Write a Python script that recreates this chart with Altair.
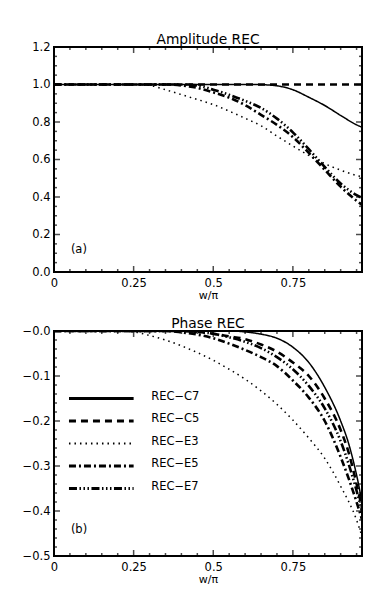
import altair as alt
import pandas as pd

FONT = "DejaVu Sans"

SERIES = ["REC-C7", "REC-C5", "REC-E3", "REC-E5", "REC-E7"]
SERIES_LABELS = ["REC\u2212C7", "REC\u2212C5", "REC\u2212E3", "REC\u2212E5", "REC\u2212E7"]

# ---------------- Amplitude REC (a) ----------------
amp_c7_x = [0, 0.6, 0.65, 0.7, 0.75, 0.8, 0.85, 0.9, 0.95, 1.0]
amp_c7_v = [1.0, 1.0, 0.999, 0.993, 0.972, 0.932, 0.888, 0.835, 0.785, 0.752]
amp_c5_x = [0, 0.5, 1.0]
amp_c5_v = [1.0, 1.0, 1.0]
amp_e3_x = [0, 0.25, 0.3, 0.35, 0.4, 0.45, 0.5, 0.55, 0.6, 0.65, 0.7, 0.75, 0.8, 0.85, 0.9, 0.95, 1.0]
amp_e3_v = [1.0, 1.0, 0.995, 0.972, 0.946, 0.92, 0.893, 0.858, 0.82, 0.78, 0.725, 0.672, 0.622, 0.578, 0.543, 0.515, 0.5]
amp_e5_x = [0, 0.35, 0.4, 0.45, 0.5, 0.55, 0.6, 0.65, 0.7, 0.75, 0.8, 0.85, 0.9, 0.95, 1.0]
amp_e5_v = [1.0, 1.0, 0.995, 0.982, 0.958, 0.93, 0.89, 0.838, 0.785, 0.72, 0.635, 0.545, 0.455, 0.38, 0.32]
amp_e7_x = [0, 0.4, 0.45, 0.5, 0.55, 0.6, 0.65, 0.7, 0.75, 0.8, 0.85, 0.9, 0.95, 1.0]
amp_e7_v = [1.0, 1.0, 0.995, 0.972, 0.945, 0.913, 0.875, 0.818, 0.745, 0.655, 0.56, 0.472, 0.41, 0.375]

# ---------------- Phase REC (b) ----------------
ph_c7_x = [0, 0.55, 0.6, 0.65, 0.7, 0.75, 0.8, 0.85, 0.9, 0.925, 0.95, 0.975, 1.0]
ph_c7_v = [0, 0, -0.002, -0.007, -0.016, -0.036, -0.07, -0.125, -0.2, -0.25, -0.32, -0.41, -0.5]
ph_c5_x = [0, 0.4, 0.45, 0.5, 0.55, 0.6, 0.65, 0.7, 0.75, 0.8, 0.85, 0.9, 0.925, 0.95, 0.975, 1.0]
ph_c5_v = [0, 0, -0.002, -0.006, -0.012, -0.018, -0.03, -0.046, -0.07, -0.1, -0.15, -0.22, -0.27, -0.34, -0.42, -0.5]
ph_e3_x = [0, 0.2, 0.25, 0.3, 0.35, 0.4, 0.45, 0.5, 0.55, 0.6, 0.65, 0.7, 0.75, 0.8, 0.85, 0.9, 0.95, 0.985]
ph_e3_v = [0, 0, -0.002, -0.01, -0.02, -0.033, -0.048, -0.065, -0.085, -0.107, -0.133, -0.163, -0.198, -0.238, -0.283, -0.345, -0.42, -0.5]
ph_e5_x = [0, 0.35, 0.4, 0.45, 0.5, 0.55, 0.6, 0.65, 0.7, 0.75, 0.8, 0.85, 0.9, 0.95, 1.0]
ph_e5_v = [0, 0, -0.003, -0.008, -0.016, -0.028, -0.042, -0.058, -0.078, -0.11, -0.148, -0.2, -0.28, -0.38, -0.5]
ph_e7_x = [0, 0.4, 0.45, 0.5, 0.55, 0.6, 0.65, 0.7, 0.75, 0.8, 0.85, 0.9, 0.95, 1.0]
ph_e7_v = [0, 0, -0.002, -0.006, -0.014, -0.024, -0.038, -0.058, -0.085, -0.122, -0.172, -0.245, -0.355, -0.5]

# axis ticks (the reference is cropped just short of w/pi = 1)
X_MAX = 0.967
X_MAJOR = [0, 0.25, 0.5, 0.75]
X_MINOR = [0.05, 0.1, 0.15, 0.2, 0.3, 0.35, 0.4, 0.45, 0.55, 0.6, 0.65, 0.7, 0.8, 0.85, 0.9, 0.95]
AMP_MAJOR = [0.0, 0.2, 0.4, 0.6, 0.8, 1.0, 1.2]
AMP_MINOR = [0.05, 0.1, 0.15, 0.25, 0.3, 0.35, 0.45, 0.5, 0.55, 0.65, 0.7, 0.75, 0.85, 0.9, 0.95,
             1.05, 1.1, 1.15]
PH_MAJOR = [0.0, -0.1, -0.2, -0.3, -0.4, -0.5]
PH_MINOR = [-0.02, -0.04, -0.06, -0.08, -0.12, -0.14, -0.16, -0.18, -0.22, -0.24, -0.26, -0.28,
            -0.32, -0.34, -0.36, -0.38, -0.42, -0.44, -0.46, -0.48]

# styles
DASHES = [[1, 0], [7, 5], [1.5, 4], [7, 3, 2, 3], [8, 2.5, 1.5, 2.5, 1.5, 2.5, 1.5, 2.5]]
W, H = 308, 225
FS = 11.5


def long_df(pairs):
    rows = []
    for s, xs, vs in pairs:
        for x, v in zip(xs, vs):
            rows.append({"series": s, "x": x, "v": v})
    return pd.DataFrame(rows)


def tick_df(major, minor):
    return pd.DataFrame({"value": list(major) + list(minor),
                         "kind": ["major"] * len(major) + ["minor"] * len(minor)})


amp_df = long_df([
    ("REC-E3", amp_e3_x, amp_e3_v),
    ("REC-E5", amp_e5_x, amp_e5_v),
    ("REC-E7", amp_e7_x, amp_e7_v),
    ("REC-C7", amp_c7_x, amp_c7_v),
    ("REC-C5", amp_c5_x, amp_c5_v),
])
ph_df = long_df([
    ("REC-E3", ph_e3_x, ph_e3_v),
    ("REC-E5", ph_e5_x, ph_e5_v),
    ("REC-E7", ph_e7_x, ph_e7_v),
    ("REC-C5", ph_c5_x, ph_c5_v),
    ("REC-C7", ph_c7_x, ph_c7_v),
])
x_ticks = tick_df(X_MAJOR, X_MINOR)

dash_scale = alt.Scale(domain=SERIES, range=DASHES)
thin_test = "datum.series == 'REC-C7' || datum.series == 'REC-E3'"
tick_len = alt.condition("datum.kind == 'major'", alt.value(12), alt.value(6))


def panel(df, title, ydom, ymaj, ymin, ylabexpr, tag, tagy, legend=False):
    xs = alt.Scale(domain=[0, X_MAX], nice=False, zero=False)
    ys = alt.Scale(domain=ydom, nice=False, zero=False)
    x_lab = alt.Axis(values=X_MAJOR, labelExpr="format(datum.value, '~g')", ticks=False, tickSize=0,
                     domain=False, grid=False, labelPadding=5, labelFlush=False, labelOverlap=False,
                     labelFont=FONT, labelFontSize=FS, labelColor="black",
                     title="w/\u03c0", titleFont=FONT, titleFontSize=11, titleFontWeight="normal",
                     titleColor="black", titlePadding=1, orient="bottom")
    y_lab = alt.Axis(values=ymaj, labelExpr=ylabexpr, ticks=False, tickSize=0, domain=False, grid=False,
                     labelPadding=4, labelFont=FONT, labelFontSize=FS, labelColor="black",
                     title=None, orient="left")

    lines = alt.Chart(df).mark_line(color="black", interpolate="monotone", clip=True).encode(
        x=alt.X("x:Q", scale=xs, axis=x_lab),
        y=alt.Y("v:Q", scale=ys, axis=y_lab),
        strokeDash=alt.StrokeDash("series:N", scale=dash_scale, legend=None),
        strokeWidth=alt.condition(thin_test, alt.value(1.5), alt.value(2.6)),
        detail="series:N",
    )
    layers = [lines]
    # inward ticks on all four sides (half of each tick is clipped by the frame)
    y_ticks = tick_df(ymaj, ymin)
    for edge in ydom:
        layers.append(alt.Chart(x_ticks).mark_tick(orient="vertical", thickness=1.5, color="black",
                                                   clip=True).encode(
            x=alt.X("value:Q", scale=xs, axis=None),
            y=alt.YDatum(edge, type="quantitative", scale=ys, axis=None),
            size=tick_len))
    for edge in [0, X_MAX]:
        layers.append(alt.Chart(y_ticks).mark_tick(orient="horizontal", thickness=1.5, color="black",
                                                   clip=True).encode(
            x=alt.XDatum(edge, type="quantitative", scale=xs, axis=None),
            y=alt.Y("value:Q", scale=ys, axis=None),
            size=tick_len))
    tag_df = pd.DataFrame({"t": [tag], "x": [0.053], "y": [tagy]})
    layers.append(alt.Chart(tag_df).mark_text(align="left", baseline="middle", font=FONT, fontSize=FS,
                                              color="black").encode(
        x=alt.X("x:Q", scale=xs, axis=None), y=alt.Y("y:Q", scale=ys, axis=None), text="t:N"))
    if legend:
        leg_df = pd.DataFrame({
            "series": SERIES,
            "label": SERIES_LABELS,
            "y": [-0.15 - 0.05 * i for i in range(len(SERIES))],
        })
        leg_df["x0"] = 0.047
        leg_df["x1"] = 0.25
        leg_df["xt"] = 0.305
        layers.append(alt.Chart(leg_df).mark_rule(color="black").encode(
            x=alt.X("x0:Q", scale=xs, axis=None), x2="x1:Q",
            y=alt.Y("y:Q", scale=ys, axis=None),
            strokeDash=alt.StrokeDash("series:N", scale=dash_scale, legend=None),
            strokeWidth=alt.condition("datum.series == 'REC-E3'", alt.value(2), alt.value(3)),
        ))
        layers.append(alt.Chart(leg_df).mark_text(align="left", baseline="middle", dy=-2, font=FONT,
                                                  fontSize=FS, color="black").encode(
            x=alt.X("xt:Q", scale=xs, axis=None), y=alt.Y("y:Q", scale=ys, axis=None), text="label:N"))
    return alt.layer(*layers).resolve_scale(x="shared", y="shared").resolve_axis(
        x="independent", y="independent").properties(width=W, height=H, title=title)


top = panel(amp_df, "Amplitude REC", [0, 1.2], AMP_MAJOR, AMP_MINOR,
            "format(datum.value, '.1f')", "(a)", 0.12)
bottom = panel(ph_df, "Phase REC", [-0.5, 0], PH_MAJOR, PH_MINOR,
               "datum.value == 0 ? '\u22120.0' : format(datum.value, '.1f')", "(b)", -0.443, legend=True)

chart = alt.vconcat(top, bottom, spacing=14).properties(
    padding={"left": 13, "top": 24, "right": 0, "bottom": 0}, background="white"
).configure_view(stroke="black", strokeWidth=2).configure_title(
    font=FONT, fontSize=13.8, fontWeight="normal", color="black", offset=-6, anchor="middle")

chart.save("out.html", embed_options={"renderer": "svg", "actions": False})
